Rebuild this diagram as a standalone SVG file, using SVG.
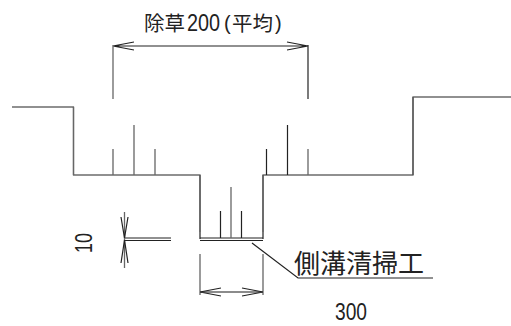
<svg xmlns="http://www.w3.org/2000/svg" width="511" height="326" viewBox="0 0 511 326">
<style>
.l{fill:none;stroke:#222;stroke-width:1.2}
.g{fill:none;stroke:#666;stroke-width:1.3}
.t{font-family:"Noto Sans CJK JP","Liberation Sans",sans-serif;fill:#222}
.n{font-family:"Liberation Sans",sans-serif;fill:#222}
</style>
<rect width="511" height="326" fill="#fff"/>
<g id="ground"><path class="l" d="M12 107H73.500V175H200V239M263 239V175H413V97H511"/><path class="g" d="M200 175V232M263 175V232M73.500 107V175M413 97V175"/><path class="l" d="M200 238H263M200 240.500H263M125 238H171M125 240.500H171"/></g>
<g id="grass-left"><path class="g" d="M113 149V175M134 125V175M155 149V175"/></g>
<g id="grass-right"><path class="l" d="M266.500 149V175M287.500 125V175"/><path class="g" d="M308 149V175"/></g>
<g id="grass-ditch"><path class="l" d="M220.500 211V238M241.500 211V238"/><path class="g" d="M231 187V238"/></g>
<g id="connectors">
<path class="l" d="M113 46H308M113 46L134 42M113 46L134 50M308 46L287 42M308 46L287 50"/>
<path class="g" d="M113 45V99"/><path class="l" d="M308 45V99"/>
<path class="g" d="M200 254V295M263 254V295M200 292H263"/>
<path class="l" d="M200 292L221 288M200 292L221 296M263 292L242 288M263 292L242 296"/>
<path class="g" d="M124.500 212V268"/>
<path class="l" d="M124.500 238L121 217M124.500 238L128 217M124.500 240L121 263M124.500 240L128 263"/>
<path class="l" d="M252 243L298 278H433"/>
</g>
<g id="label-weeding"><text class="t" x="144" y="31" font-size="20.500">除草</text><text class="n" x="187" y="31" font-size="23" textLength="33" lengthAdjust="spacingAndGlyphs">200</text><text class="n" x="224" y="30" font-size="20">(</text><text class="t" x="232" y="31" font-size="20.500">平均</text><text class="n" x="275" y="30" font-size="20">)</text></g>
<g id="label-ditch"><text class="t" x="294" y="273" font-size="26">側溝清掃工</text></g>
<g id="label-300"><text class="n" x="335" y="320" font-size="23" textLength="32" lengthAdjust="spacingAndGlyphs">300</text></g>
<g id="label-10"><text class="n" transform="translate(92 253) rotate(-90)" font-size="23" textLength="20" lengthAdjust="spacingAndGlyphs">10</text></g>
</svg>
